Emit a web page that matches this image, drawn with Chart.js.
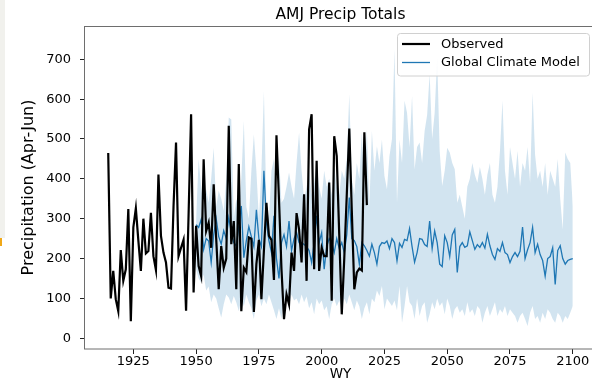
<!DOCTYPE html>
<html><head><meta charset="utf-8">
<script src="https://cdn.jsdelivr.net/npm/chart.js@4/dist/chart.umd.min.js"></script>
<style>
html,body{margin:0;padding:0;background:#fff;overflow:hidden;width:592px;height:381px}
#wrap{position:absolute;left:0;top:0;width:600px;height:381px}
#strip{position:absolute;left:0;top:0;width:5px;height:238px;background:#f1f1ed}
#mark{position:absolute;left:0;top:238px;width:2px;height:8px;background:#f0a818}
</style></head><body>
<div id="wrap"><canvas id="c" width="600" height="381" style="width:600px;height:381px"></canvas></div>
<div id="strip"></div><div id="mark"></div>
<script>
// ---- data ----
const chartTitle = 'AMJ Precip Totals';
const xTitle = 'WY';
const yTitle = 'Precipitation (Apr-Jun)';
const seriesNames = ['Observed', 'Global Climate Model'];
const xTickVals = [1925, 1950, 1975, 2000, 2025, 2050, 2075, 2100];
const yTickVals = [0, 100, 200, 300, 400, 500, 600, 700];

const obsStartYear = 1915;
const observed = [
  465,100,169,98,68,221,144,173,324,43,
  278,326,245,169,300,213,219,315,206,171,
  411,257,215,190,127,125,330,491,206,227,
  247,69,310,562,115,282,181,156,449,269,
  290,227,386,250,123,231,177,200,533,236,
  294,123,437,68,177,166,253,250,66,186,
  247,98,220,340,257,247,146,509,349,173,
  48,110,85,215,169,314,273,190,361,144,
  524,562,173,445,169,227,206,206,391,94,
  507,457,260,60,200,360,526,320,123,165,
  175,170,517,334
];

const gcmStartYear = 1950;
const gcmMean = [
  285,278,298,223,250,244,190,260,300,255,
  236,270,250,303,265,240,232,280,332,202,
  245,280,255,230,322,250,230,420,290,245,
  215,307,200,150,240,260,230,294,220,250,
  265,240,240,235,230,220,190,240,307,240,
  265,173,230,250,240,215,250,225,240,215,
  260,353,250,245,230,186,240,232,220,206,
  236,215,186,230,240,238,244,225,250,240,
  194,238,228,248,245,275,230,191,215,250,
  248,235,230,294,225,269,240,186,180,257,
  240,205,259,273,165,230,240,228,232,267,
  245,223,235,228,240,226,261,232,210,198,
  225,218,240,215,210,190,205,215,205,218,
  279,200,222,240,278,215,236,210,195,156,
  200,205,227,135,220,232,200,186,195,198,
  200
];
const gcmUpper = [
  300,449,380,330,374,340,400,478,330,370,
  350,320,400,554,549,300,350,320,400,545,
  330,300,420,512,420,300,420,620,330,300,
  420,450,320,457,340,350,380,416,380,350,
  440,516,420,350,380,420,360,390,440,380,
  350,420,380,400,360,430,380,360,420,400,
  450,612,400,360,440,400,516,380,524,332,
  520,420,482,440,498,407,374,457,500,725,
  340,498,440,596,566,480,608,424,480,491,
  440,520,560,663,500,566,705,470,382,420,
  478,466,440,424,340,360,330,300,380,400,
  440,410,390,430,400,360,411,440,360,340,
  380,470,596,420,360,480,440,400,470,380,
  440,420,480,390,616,460,400,420,380,440,
  360,420,400,380,450,350,273,466,450,440,
  332
];
const gcmLower = [
  173,150,140,160,120,130,90,110,100,75,
  52,85,110,102,85,106,90,68,100,80,
  110,90,75,48,95,110,80,100,85,110,
  90,70,48,75,48,95,100,80,110,95,
  100,85,110,90,105,75,90,60,100,85,
  95,70,80,48,85,100,80,95,75,100,
  85,110,90,70,95,80,48,75,90,60,
  100,90,120,106,131,73,100,90,81,95,
  70,131,39,80,131,90,81,48,100,56,
  81,90,39,60,90,73,100,81,90,60,
  100,81,48,73,81,64,73,56,90,64,
  73,56,81,73,39,64,81,56,73,90,
  56,73,64,81,56,73,64,56,39,56,
  64,48,31,64,81,48,56,39,64,48,
  73,64,48,39,64,56,39,56,48,64,
  81
];

// ---- build points ----
const toPts = (start, arr) => arr.map((v, i) => ({x: start + i, y: v}));

const FONT = "'DejaVu Sans', 'Liberation Sans', sans-serif";
const BLUE = '#1f77b4';

const framePlugin = {
  id: 'frame',
  afterDatasetsDraw(chart) {
    const a = chart.chartArea, ctx = chart.ctx;
    ctx.save();
    ctx.strokeStyle = '#6e6e6e';
    ctx.lineWidth = 1;
    ctx.strokeRect(a.left - 0.5, a.top + 0.5, a.right - a.left + 0.5, a.bottom - a.top - 0.5);
    ctx.restore();
  }
};

const legendPlugin = {
  id: 'insideLegend',
  afterDraw(chart) {
    const ctx = chart.ctx;
    const ds = chart.data.datasets;
    const bx = 397.5, by = 33.5, bw = 192, bh = 42.5, r = 3;
    ctx.save();
    ctx.beginPath();
    ctx.moveTo(bx + r, by);
    ctx.lineTo(bx + bw - r, by); ctx.arcTo(bx + bw, by, bx + bw, by + r, r);
    ctx.lineTo(bx + bw, by + bh - r); ctx.arcTo(bx + bw, by + bh, bx + bw - r, by + bh, r);
    ctx.lineTo(bx + r, by + bh); ctx.arcTo(bx, by + bh, bx, by + bh - r, r);
    ctx.lineTo(bx, by + r); ctx.arcTo(bx, by, bx + r, by, r);
    ctx.closePath();
    ctx.fillStyle = 'rgba(255,255,255,0.85)';
    ctx.fill();
    ctx.strokeStyle = '#d0d0d0';
    ctx.lineWidth = 1;
    ctx.stroke();
    const rows = [{d: ds[0], y: 44}, {d: ds[1], y: 62.5}];
    ctx.font = '13px ' + FONT;
    ctx.textBaseline = 'middle';
    ctx.textAlign = 'left';
    rows.forEach(rw => {
      ctx.beginPath();
      ctx.strokeStyle = rw.d.borderColor;
      ctx.lineWidth = rw.d.borderWidth;
      ctx.moveTo(402, rw.y); ctx.lineTo(430, rw.y);
      ctx.stroke();
      ctx.fillStyle = '#000';
      ctx.fillText(rw.d.label, 441, rw.y + 0.5);
    });
    ctx.restore();
  }
};

new Chart(document.getElementById('c'), {
  type: 'line',
  data: {
    datasets: [
      {label: seriesNames[0], data: toPts(obsStartYear, observed), borderColor: '#000', borderWidth: 2.2,
       pointRadius: 0, tension: 0, fill: false},
      {label: seriesNames[1], data: toPts(gcmStartYear, gcmMean), borderColor: BLUE, borderWidth: 1.3,
       pointRadius: 0, tension: 0, fill: false},
      {label: 'upper', data: toPts(gcmStartYear, gcmUpper), borderWidth: 0, borderColor: 'rgba(0,0,0,0)',
       backgroundColor: 'rgba(31,119,180,0.2)', pointRadius: 0, tension: 0, fill: 3},
      {label: 'lower', data: toPts(gcmStartYear, gcmLower), borderWidth: 0, borderColor: 'rgba(0,0,0,0)',
       pointRadius: 0, tension: 0, fill: false}
    ]
  },
  options: {
    responsive: false,
    animation: false,
    devicePixelRatio: 1,
    layout: {padding: {left: 0, right: 4, top: 0, bottom: 0}},
    plugins: {
      legend: {display: false},
      tooltip: {enabled: false},
      title: {
        display: true, text: chartTitle, fullSize: false,
        color: '#000', font: {family: FONT, size: 15.5, weight: 'normal', lineHeight: 1.2},
        padding: {top: 6, bottom: 1.4}
      }
    },
    scales: {
      x: {
        type: 'linear', min: 1905.75, max: 2109.25,
        afterBuildTicks: s => { s.ticks = xTickVals.map(v => ({value: v})); },
        afterFit: s => { s.height = 32; },
        grid: {drawOnChartArea: false, drawTicks: true, tickLength: 5, color: '#222'},
        border: {display: false},
        ticks: {color: '#000', font: {family: FONT, size: 13, lineHeight: 1}, padding: 1,
                maxRotation: 0, autoSkip: false, callback: v => String(v)},
        title: {display: true, text: xTitle, color: '#000',
                font: {family: FONT, size: 13.5, lineHeight: 1}, padding: {top: 0, bottom: 0}}
      },
      y: {
        type: 'linear', min: -27, max: 783.5,
        afterBuildTicks: s => { s.ticks = yTickVals.map(v => ({value: v})); },
        afterFit: s => { s.width = 85; },
        grid: {drawOnChartArea: false, drawTicks: true, tickLength: 5, color: '#222'},
        border: {display: false},
        ticks: {color: '#000', font: {family: FONT, size: 13, lineHeight: 1}, padding: 9,
                callback: v => String(v)},
        title: {display: true, text: yTitle, color: '#000',
                font: {family: FONT, size: 16, lineHeight: 1}, padding: {top: 21, bottom: 0}}
      }
    }
  },
  plugins: [framePlugin, legendPlugin]
});
</script>
</body></html>
